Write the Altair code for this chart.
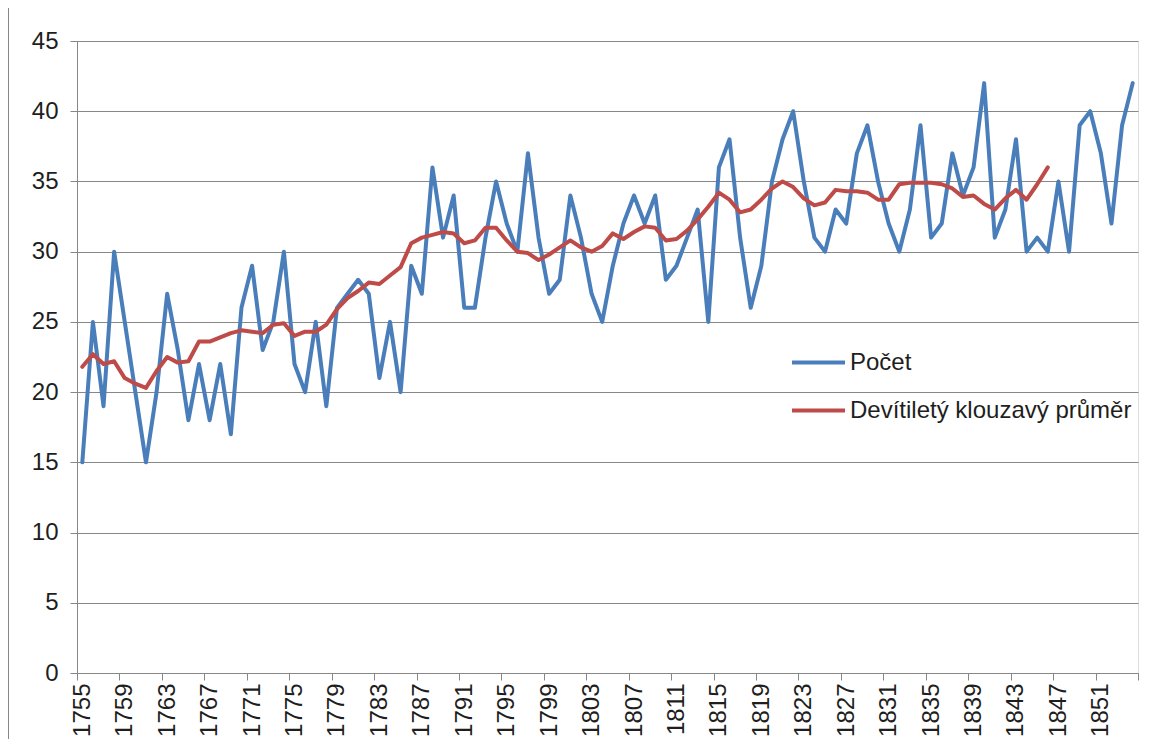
import altair as alt
import pandas as pd

# ---- data ----
years = list(range(1755, 1855))
pocet = [15, 25, 19, 30, 25, 20, 15, 20, 27, 23,
         18, 22, 18, 22, 17, 26, 29, 23, 25, 30,
         22, 20, 25, 19, 26, 27, 28, 27, 21, 25,
         20, 29, 27, 36, 31, 34, 26, 26, 31, 35,
         32, 30, 37, 31, 27, 28, 34, 31, 27, 25,
         29, 32, 34, 32, 34, 28, 29, 31, 33, 25,
         36, 38, 31, 26, 29, 35, 38, 40, 35, 31,
         30, 33, 32, 37, 39, 35, 32, 30, 33, 39,
         31, 32, 37, 34, 36, 42, 31, 33, 38, 30,
         31, 30, 35, 30, 39, 40, 37, 32, 39, 42]
prumer = [21.8, 22.7, 22.0, 22.2, 21.0, 20.6, 20.3, 21.5, 22.5, 22.1,
          22.2, 23.6, 23.6, 23.9, 24.2, 24.4, 24.3, 24.2, 24.8, 24.9,
          24.0, 24.3, 24.3, 24.8, 25.9, 26.7, 27.2, 27.8, 27.7, 28.3,
          28.9, 30.6, 31.0, 31.2, 31.4, 31.3, 30.6, 30.8, 31.7, 31.7,
          30.8, 30.0, 29.9, 29.4, 29.8, 30.3, 30.8, 30.3, 30.0, 30.4,
          31.3, 30.9, 31.4, 31.8, 31.7, 30.8, 30.9, 31.5, 32.3, 33.2,
          34.2, 33.7, 32.8, 33.0, 33.7, 34.5, 35.0, 34.6, 33.8, 33.3,
          33.5, 34.4, 34.3, 34.3, 34.2, 33.7, 33.7, 34.8, 34.9, 34.9,
          34.9, 34.8, 34.5, 33.9, 34.0, 33.4, 33.0, 33.8, 34.4, 33.7,
          34.8, 36.0]
series_names = ["Počet", "Devítiletý klouzavý průměr"]
series_colors = ["#4A7EBB", "#BE4B48"]
x_tick_bounds = [1754.5 + 4 * k for k in range(26)]
x_label_years = list(range(1755, 1852, 4))
y_ticks = list(range(0, 50, 5))

df_a = pd.DataFrame({"rok": years, "hodnota": pocet, "rada": series_names[0]})
df_b = pd.DataFrame({"rok": years[:len(prumer)], "hodnota": prumer, "rada": series_names[1]})

FONT = "Liberation Sans"
GRID = "#878787"
TXT = "#1e1e1e"

xscale = alt.Scale(domain=[1754.5, 1854.5], nice=False, zero=False)
yscale = alt.Scale(domain=[0, 45], nice=False, zero=True)

yaxis = alt.Axis(values=y_ticks, title=None, grid=True, gridColor=GRID, domain=True,
                 domainColor=GRID, ticks=True, tickSize=7, tickColor=GRID,
                 labelFontSize=24, labelFont=FONT, labelColor=TXT, labelPadding=12,
                 labelFlush=False, labelOverlap=False)

color = alt.Color(
    "rada:N",
    scale=alt.Scale(domain=series_names, range=series_colors),
    legend=alt.Legend(orient="none", legendX=713, legendY=293, title=None,
                      symbolType="stroke", symbolSize=2809, symbolStrokeWidth=4,
                      labelFont=FONT, labelFontSize=24, labelColor=TXT,
                      labelOffset=3, rowPadding=7, padding=0, labelLimit=0),
)

blue = alt.Chart(df_a).mark_line(strokeWidth=4, strokeJoin="round", strokeCap="round").encode(
    x=alt.X("rok:Q", scale=xscale,
            axis=alt.Axis(orient="bottom", values=x_tick_bounds, labels=False, ticks=True,
                          tickSize=7, tickColor=GRID, domain=True, domainColor=GRID,
                          grid=False, title=None)),
    y=alt.Y("hodnota:Q", scale=yscale, axis=yaxis),
    color=color,
)

red = alt.Chart(df_b).mark_line(strokeWidth=4, strokeJoin="round", strokeCap="round").encode(
    x=alt.X("rok:Q", scale=xscale,
            axis=alt.Axis(orient="bottom", values=x_label_years, labels=True, ticks=False,
                          domain=False, grid=False, title=None, labelAngle=270, format="d",
                          labelPadding=10, labelFont=FONT, labelFontSize=24, labelColor=TXT,
                          labelFlush=False, labelOverlap=False)),
    y=alt.Y("hodnota:Q", scale=yscale, axis=yaxis),
    color=color,
)

# chart-area border visible at the left edge of the reference
border = alt.Chart(pd.DataFrame({"k": [0]})).mark_rule(color=GRID, strokeWidth=1, clip=False).encode(
    x=alt.value(-68.5), y=alt.value(-40), y2=alt.value(720)
)

chart = (
    alt.layer(blue, red, border)
    .resolve_axis(x="independent")
    .properties(width=1061, height=632,
                autosize=alt.AutoSizeParams(type="none"),
                padding={"left": 69, "top": 33, "right": 9, "bottom": 66})
    .configure_view(stroke=None)
    .configure(background="white")
)

chart.save("out.html", embed_options={"renderer": "svg", "actions": False})
